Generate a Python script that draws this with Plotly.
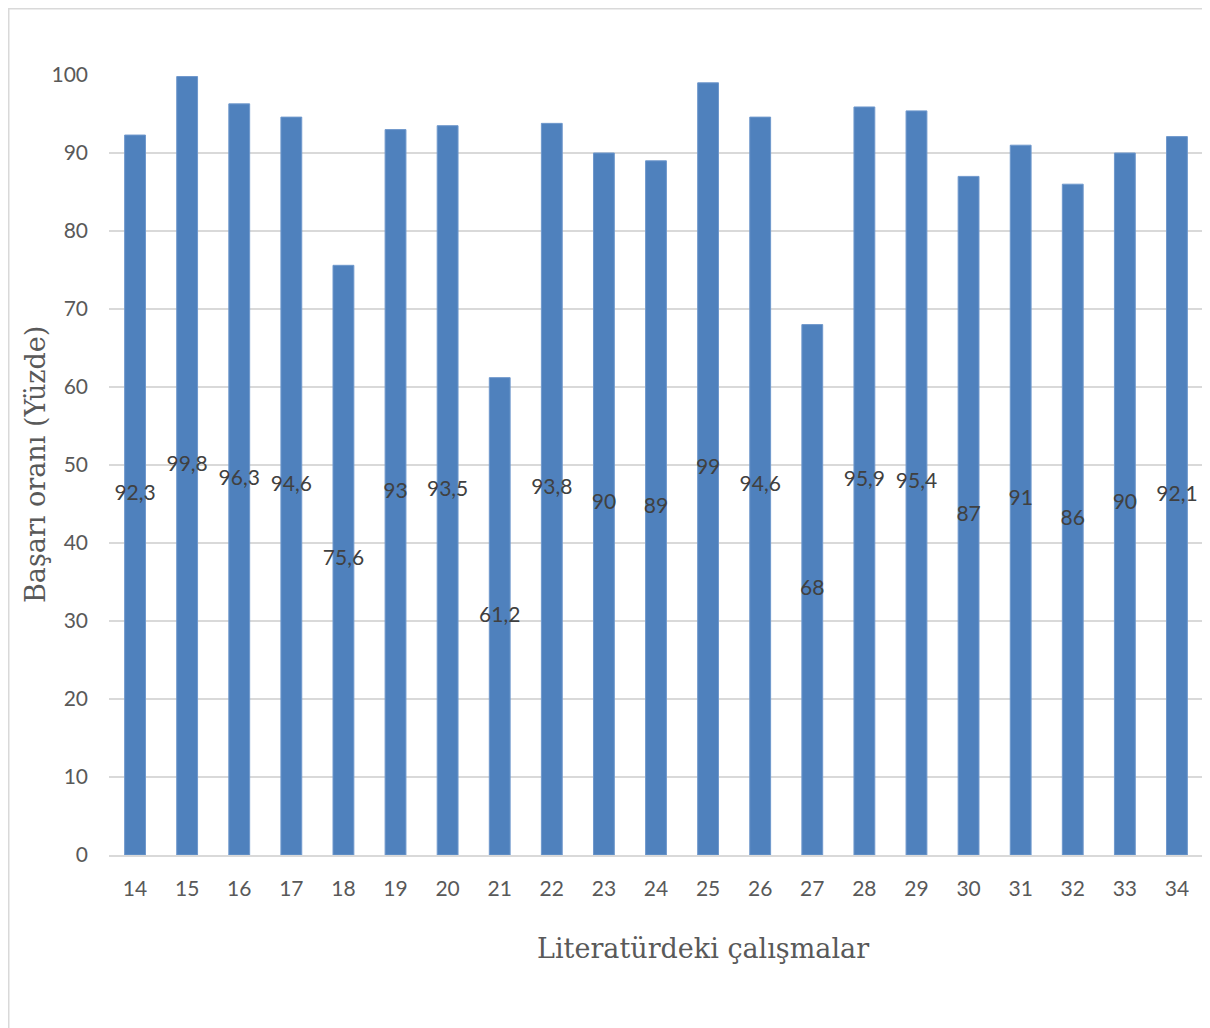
import plotly.graph_objects as go

categories = [str(c) for c in range(14, 35)]
values = [92.3, 99.8, 96.3, 94.6, 75.6, 93, 93.5, 61.2, 93.8, 90, 89, 99, 94.6, 68, 95.9, 95.4, 87, 91, 86, 90, 92.1]
labels = [str(v).replace('.', ',') for v in values]
y_ticks = [0, 10, 20, 30, 40, 50, 60, 70, 80, 90, 100]

# page has an 8px body margin; compensate
W, H = 1202, 1020
L, R, T, B = 101, 7, 67, 173
PW = W - L - R
PH = H - T - B

fig = go.Figure()
fig.add_trace(go.Bar(
    x=categories, y=values, width=0.4,
    marker=dict(color='#4f81bd', line=dict(color='#6f98cc', width=1)),
    hoverinfo='skip', showlegend=False,
))
fig.add_trace(go.Scatter(
    x=categories, y=[v / 2 for v in values], mode='text', text=labels,
    textfont=dict(family='Lato, Open Sans, sans-serif', size=21, color='#404040'),
    showlegend=False, hoverinfo='skip',
))

fig.update_layout(
    width=W, height=H,
    margin=dict(l=L, r=R, t=T, b=B),
    paper_bgcolor='white', plot_bgcolor='white',
    xaxis=dict(
        type='category', range=[-0.5, len(categories) - 0.5], autorange=False,
        showgrid=False, showline=True, linecolor='#d9d9d9', linewidth=2,
        tickfont=dict(family='Lato, Open Sans, sans-serif', size=21, color='#595959'),
        ticks='', ticklabelstandoff=14, zeroline=False,
    ),
    yaxis=dict(
        range=[0, 100], autorange=False, tickvals=y_ticks, showgrid=True, gridcolor='#d9d9d9', gridwidth=1.5,
        showline=False, zeroline=False, ticks='',
        tickfont=dict(family='Lato, Open Sans, sans-serif', size=21, color='#595959'),
        ticklabelstandoff=20,
    ),
    annotations=[
        dict(text='Başarı oranı (Yüzde)', xref='paper', yref='paper',
             x=(27 - L) / PW, y=0.5, xanchor='center', yanchor='middle', textangle=-90,
             showarrow=False, font=dict(family='DejaVu Serif, Liberation Serif, serif', size=27, color='#595959')),
        dict(text='Literatürdeki çalışmalar', xref='paper', yref='paper',
             x=(695 - L) / PW, y=-(940 - (T + PH)) / PH, xanchor='center', yanchor='middle',
             showarrow=False, font=dict(family='DejaVu Serif, Liberation Serif, serif', size=27, color='#595959')),
    ],
    shapes=[
        dict(type='rect', xref='paper', yref='paper',
             x0=(0.5 - L) / PW, x1=(W + 10 - L) / PW,
             y0=-(H + 10 - (T + PH)) / PH, y1=1 + (T - 0.5) / PH,
             line=dict(color='#d9d9d9', width=2), fillcolor='rgba(0,0,0,0)', layer='below'),
    ],
)

fig.write_html('out.html')
